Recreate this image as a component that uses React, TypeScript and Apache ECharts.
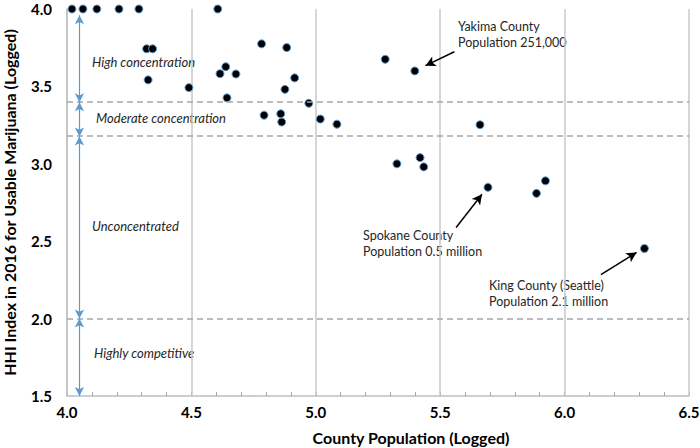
import React, { useEffect, useRef } from "react";
import * as echarts from "echarts";

// County population (log10) and HHI index (log10)
const popLog = [
  4.02, 4.064, 4.12, 4.209, 4.289, 4.606,
  4.32, 4.344, 4.326, 4.49, 4.782, 4.883, 4.638, 4.615, 4.679, 4.915,
  4.876, 4.643, 4.972, 4.792, 4.859, 4.863, 5.018, 5.085,
  5.279, 5.398, 5.66, 5.326, 5.419, 5.434, 5.692, 5.923, 5.887, 6.321,
];
const hhiLog = [
  4.0, 4.0, 4.0, 4.0, 4.0, 4.0,
  3.743, 3.743, 3.542, 3.492, 3.775, 3.751, 3.627, 3.582, 3.58, 3.555,
  3.481, 3.426, 3.391, 3.314, 3.323, 3.27, 3.289, 3.256,
  3.675, 3.6, 3.252, 3.0, 3.04, 2.98, 2.848, 2.89, 2.809, 2.453,
];

const xTicks = ["4.0", "4.5", "5.0", "5.5", "6.0", "6.5"];
const yTicks = ["1.5", "2.0", "2.5", "3.0", "3.5", "4.0"];

// HHI thresholds (log10 of 2500, 1500, 100)
const thresholds = [3.398, 3.176, 2.0];
// band arrows: [from, to] in HHI (log)
const bandArrowX = 4.05;
const bandArrows = [
  [3.96, 3.398],
  [3.398, 3.176],
  [3.176, 2.0],
  [2.0, 1.5],
];
const bandLabels = ["High concentration", "Moderate concentration", "Unconcentrated", "Highly competitive"];

// Annotations: text lines and arrow [fromX, fromY, toX, toY] in data coords
const annotationTexts = [
  "Yakima County\nPopulation 251,000",
  "Spokane County\nPopulation 0.5 million",
  "King County (Seattle)\nPopulation 2.1 million",
];
const annotationArrows = [
  [5.557, 3.724, 5.441, 3.634],
  [5.564, 2.588, 5.668, 2.803],
  [6.146, 2.284, 6.289, 2.427],
];

const FONT = "Lato, 'Open Sans', sans-serif";

export default function App() {
  const ref = useRef<HTMLDivElement>(null);
  useEffect(() => {
    if (!ref.current) return;
    const chart = echarts.init(ref.current, undefined, { renderer: "svg" });
    const points = popLog.map((x, i) => [x, hhiLog[i]]);

    const bandLabelPos = [
      [92, 63],
      [96, 119],
      [92, 227],
      [94, 354],
    ];
    const annPos = [
      [458, 18],
      [363, 227],
      [489, 277],
    ];

    chart.setOption({
      animation: false,
      textStyle: { fontFamily: FONT },
      grid: { left: 67, right: 11, top: 9, bottom: 52, containLabel: false, outerBoundsMode: "none" },
      xAxis: {
        type: "value",
        min: 4.0,
        max: 6.5,
        interval: 0.5,
        name: "County Population (Logged)",
        nameLocation: "middle",
        nameGap: 33,
        nameTextStyle: {
          fontFamily: FONT, fontWeight: "bold", fontSize: 16, lineHeight: 16, color: "#000",
          padding: [0, 0, 0, 66],
        },
        axisLine: { show: true, lineStyle: { color: "#bfbfbf", width: 1.5 } },
        axisTick: { show: true, inside: true, length: 4, lineStyle: { color: "#bfbfbf" } },
        minorTick: { show: true, splitNumber: 5, length: 4, lineStyle: { color: "#a6a6a6", width: 1 } },
        axisLabel: {
          fontFamily: FONT,
          fontWeight: "bold",
          fontSize: 15,
          lineHeight: 14,
          color: "#000",
          margin: 9,
          formatter: (v: number) => xTicks[Math.round((v - 4.0) / 0.5)] ?? "",
        },
        splitLine: { show: true, lineStyle: { color: "#c8c8c8", width: 1.5 } },
      },
      yAxis: {
        type: "value",
        min: 1.5,
        max: 4.0,
        interval: 0.5,
        name: "HHI Index in 2016 for Usable Marijuana (Logged)",
        nameLocation: "middle",
        nameGap: 50,
        nameTextStyle: { fontFamily: FONT, fontWeight: "bold", fontSize: 16, lineHeight: 16, color: "#000" },
        axisLine: { show: true, lineStyle: { color: "#bfbfbf", width: 1.5 } },
        axisTick: { show: false },
        axisLabel: {
          fontFamily: FONT,
          fontWeight: "bold",
          fontSize: 15,
          lineHeight: 12,
          color: "#000",
          margin: 15,
          formatter: (v: number) => yTicks[Math.round((v - 1.5) / 0.5)] ?? "",
        },
        splitLine: { show: false },
      },
      series: [
        {
          type: "scatter",
          data: [],
          silent: true,
          markLine: {
            silent: true,
            symbol: ["none", "none"],
            label: { show: false },
            lineStyle: { color: "#a6a6a6", type: [6, 4], width: 1.5 },
            data: thresholds.map((t) => ({ yAxis: t })),
          },
        },
        {
          type: "scatter",
          data: [],
          silent: true,
          markLine: {
            silent: true,
            symbol: ["arrow", "arrow"],
            symbolSize: [7, 9],
            label: { show: false },
            lineStyle: { color: "#5b9bd5", type: "solid", width: 1.2 },
            data: bandArrows.map(([a, b]) => [
              { coord: [bandArrowX, a] },
              { coord: [bandArrowX, b] },
            ]),
          },
        },
        {
          type: "scatter",
          data: [],
          silent: true,
          markLine: {
            silent: true,
            symbol: ["none", "arrow"],
            symbolSize: [8, 10],
            label: { show: false },
            lineStyle: { color: "#000", type: "solid", width: 1.5 },
            data: annotationArrows.map(([x1, y1, x2, y2]) => [
              { coord: [x1, y1] },
              { coord: [x2, y2] },
            ]),
          },
        },
        {
          type: "scatter",
          data: points,
          symbol: "circle",
          symbolSize: 8,
          clip: false,
          itemStyle: { color: "#000", borderColor: "#5b9bd5", borderWidth: 1, opacity: 1 },
        },
      ],
      graphic: [
        ...bandLabels.map((t, i) => ({
          type: "text",
          left: bandLabelPos[i][0],
          top: bandLabelPos[i][1] - 8,
          silent: true,
          style: { text: t, fontFamily: FONT, fontStyle: "italic", fontSize: 13, fill: "#262626" },
        })),
        ...annotationTexts.map((t, i) => ({
          type: "text",
          left: annPos[i][0],
          top: annPos[i][1],
          silent: true,
          style: { text: t, fontFamily: FONT, fontSize: 12.5, lineHeight: 16, fill: "#262626" },
        })),
      ],
    });
    return () => chart.dispose();
  }, []);
  return <div ref={ref} style={{ position: "fixed", left: 0, top: 0, width: 700, height: 448, background: "#fff" }} />;
}
